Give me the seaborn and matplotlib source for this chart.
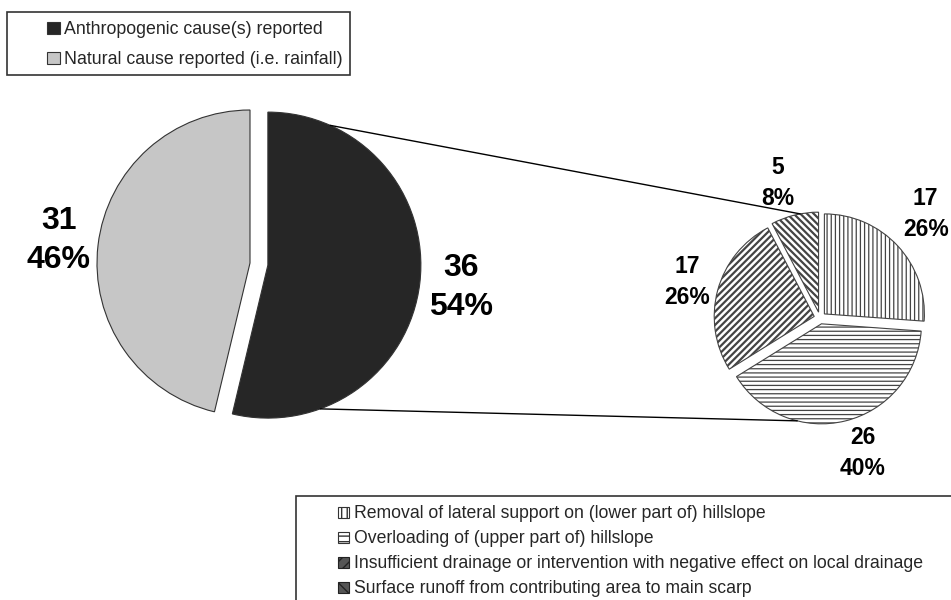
import matplotlib.pyplot as plt
import numpy as np
import seaborn as sns
from matplotlib.patches import Patch, Rectangle

# main pie: cause of the landslide
cause_labels = ["Anthropogenic cause(s) reported", "Natural cause reported (i.e. rainfall)"]
cause_counts = [36, 31]
cause_pcts = [54, 46]

# sub pie: type of anthropogenic cause
detail_labels = [
    "Removal of lateral support on (lower part of) hillslope",
    "Overloading of (upper part of) hillslope",
    "Insufficient drainage or intervention with negative effect on local drainage",
    "Surface runoff from contributing area to main scarp",
]
detail_counts = [17, 26, 17, 5]
detail_pcts = [26, 40, 26, 8]

sns.set_theme(style="white")
plt.rcParams["font.family"] = ["Liberation Sans", "DejaVu Sans"]
plt.rcParams["hatch.linewidth"] = 1.0

W, H = 951, 600
fig = plt.figure(figsize=(W / 100, H / 100), dpi=100)
ax = fig.add_axes([0, 0, 1, 1])

big_colors = ["#262626", "#c6c6c6"]
# explode is in data units here, not a fraction of the radius
big_wedges, _ = ax.pie(
    cause_counts, colors=big_colors, startangle=90, counterclock=False,
    explode=[18, 0], radius=153, center=(250, H - 263),
    wedgeprops=dict(edgecolor="#333333", linewidth=0.8),
)

small_hatches = ["||||", "----", "/////", "\\\\\\\\\\"]
small_hatch_lw = [0.9, 0.9, 1.6, 1.6]
small_wedges, _ = ax.pie(
    detail_counts, colors=["white"] * 4, startangle=90, counterclock=False,
    explode=[6] * 4, radius=100, center=(820, H - 318),
    wedgeprops=dict(edgecolor="#444444", linewidth=0.8),
)
for w, h, lw in zip(small_wedges, small_hatches, small_hatch_lw):
    w.set_hatch(h)
    if hasattr(w, "set_hatch_linewidth"):
        w.set_hatch_linewidth(lw)

ax.set_xlim(0, W)
ax.set_ylim(0, H)
ax.set_aspect("equal")
ax.axis("off")


def arc_point(w, ang, frac=1.0):
    cx, cy = w.center
    a = np.deg2rad(ang)
    return cx + frac * w.r * np.cos(a), cy + frac * w.r * np.sin(a)


def mid_angle(w):
    return (w.theta1 + w.theta2) / 2


# value labels
for w, n, p, d in zip(big_wedges, cause_counts, cause_pcts, [1.27, 1.26]):
    x, y = arc_point(w, mid_angle(w), d)
    ax.text(x, y, f"{n}\n{p}%", ha="center", va="center", fontsize=23,
            fontweight="bold", linespacing=1.38, color="black")

small_dist = [1.42, 1.36, 1.32, 1.36]
small_turn = [1.6, 3.8, 0, 3.8]
for w, n, p, d, t in zip(small_wedges, detail_counts, detail_pcts, small_dist, small_turn):
    x, y = arc_point(w, mid_angle(w) + t, d)
    ax.text(x, y, f"{n}\n{p}%", ha="center", va="center", fontsize=16.5,
            fontweight="bold", linespacing=1.45, color="black")

# connector lines from the anthropogenic slice to the sub pie
x0, y0 = arc_point(big_wedges[0], 66)
x1, y1 = arc_point(small_wedges[3], 100.6)
ax.plot([x0, x1], [y0, y1], color="black", lw=1)
x0, y0 = arc_point(big_wedges[0], -70)
x1, y1 = arc_point(small_wedges[1], -104)
ax.plot([x0, x1], [y0, y1], color="black", lw=1)

# legends
top_handles = [Patch(facecolor=c, edgecolor="#333333", linewidth=0.8) for c in big_colors]
fig.add_artist(Rectangle((7 / W, 1 - 75 / H), 343 / W, 63 / H, transform=fig.transFigure,
                         fill=False, edgecolor="#333333", linewidth=1.2))
leg1 = fig.legend(top_handles, cause_labels, loc="upper left", bbox_to_anchor=(35 / W, 1 - 9 / H),
                  frameon=False, fontsize=12.8, handlelength=0.7, handleheight=0.7,
                  handletextpad=0.25, labelspacing=0.73, borderpad=0.2)

bot_handles = [
    Patch(facecolor="white", edgecolor="#333333", hatch="|||", linewidth=0.8),
    Patch(facecolor="white", edgecolor="#333333", hatch="---", linewidth=0.8),
    Patch(facecolor="#555555", edgecolor="#222222", hatch="///", linewidth=0.8),
    Patch(facecolor="#555555", edgecolor="#222222", hatch="\\\\\\", linewidth=0.8),
]
fig.add_artist(Rectangle((296 / W, -0.05), 0.8, 1 - 496 / H + 0.05, transform=fig.transFigure,
                         fill=False, edgecolor="#333333", linewidth=1.2))
leg2 = fig.legend(bot_handles, detail_labels, loc="upper left", bbox_to_anchor=(326 / W, 1 - 493 / H),
                  frameon=False, fontsize=12.7, handlelength=0.6, handleheight=0.6,
                  handletextpad=0.3, labelspacing=0.455, borderpad=0.2)

fig.savefig("out.png", dpi=100, facecolor="white")
